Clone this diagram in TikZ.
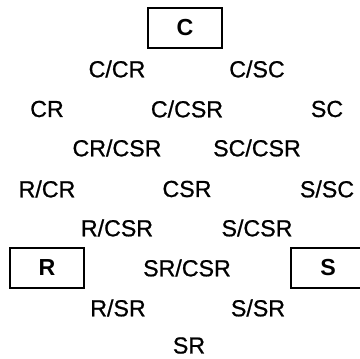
\documentclass[tikz,border=0pt]{standalone}
\usepackage{fontspec}
\setmainfont{Liberation Sans}
\newfontfamily\lblfont{Liberation Sans}[FakeBold=0.8]
\usepackage{tikz}

\tikzset{
  lbl/.style={inner sep=0.75pt, font=\lblfont\fontsize{17.4}{20}\selectfont},
  corner/.style={draw, line width=1.5pt, minimum width=55.5pt, minimum height=30pt,
    inner sep=0pt, font=\fontsize{17.4}{20}\selectfont\bfseries}
}

\begin{document}
\begin{tikzpicture}[x=0.75pt,y=0.75pt,yscale=-1,xscale=1]
    \useasboundingbox (0,0) rectangle (360,358);
    \clip (0,0) rectangle (360,358);

    % Corner states
    \node [corner] (c) at (185,28) {C};
    \node [corner] (r) at (47,268) {R};
    \node [corner] (s) at (328,268) {S};

    % Row 1
    \node [lbl] (ccr) at (117,69) {C/CR};
    \node [lbl] (csc) at (257,69) {C/SC};
    % Row 2
    \node [lbl] (cr) at (47,109) {CR};
    \node [lbl] (ccsr) at (187,109) {C/CSR};
    \node [lbl] (sc) at (327,109) {SC};
    % Row 3
    \node [lbl] (crcsr) at (117,148) {CR/CSR};
    \node [lbl] (sccsr) at (257,148) {SC/CSR};
    % Row 4
    \node [lbl] (rcr) at (47,189) {R/CR};
    \node [lbl] (csr) at (187,189) {CSR};
    \node [lbl] (ssc) at (327,189) {S/SC};
    % Row 5
    \node [lbl] (rcsr) at (117,228) {R/CSR};
    \node [lbl] (scsr) at (257,228) {S/CSR};
    % Row 6
    \node [lbl] (srcsr) at (187,268) {SR/CSR};
    % Row 7
    \node [lbl] (rsr) at (118,308) {R/SR};
    \node [lbl] (ssr) at (258,308) {S/SR};
    % Row 8
    \node [lbl] (sr) at (189,345.5) {SR};

\end{tikzpicture}
\end{document}
